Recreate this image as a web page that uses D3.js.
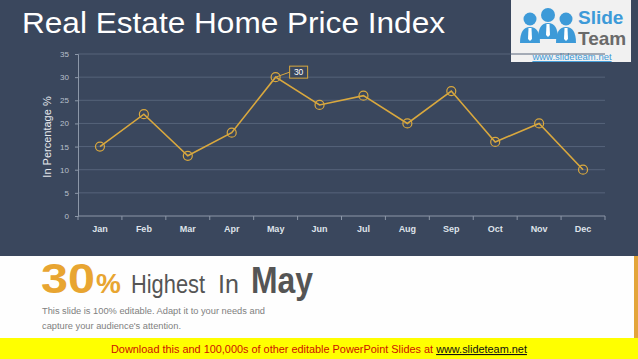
<!DOCTYPE html>
<html><head><meta charset="utf-8">
<script src="https://cdn.jsdelivr.net/npm/d3@7"></script>
<style>body{margin:0;padding:0;overflow:hidden;background:#fff}svg{display:block}</style>
</head><body>
<script>
const months = ["Jan","Feb","Mar","Apr","May","Jun","Jul","Aug","Sep","Oct","Nov","Dec"];
const values = [15,22,13,18,30,24,26,20,27,16,20,10];
const yTicks = [0,5,10,15,20,25,30,35];
const highlightIndex = 4;

const W=638,H=359;
const svg=d3.select("body").append("svg").attr("width",W).attr("height",H);
const font="Liberation Sans, Arial, sans-serif";

svg.append("rect").attr("width",W).attr("height",256).attr("fill","#3a475d");
svg.append("rect").attr("y",256).attr("width",W).attr("height",82).attr("fill","#fefefe");
svg.append("rect").attr("x",634).attr("y",256).attr("width",4).attr("height",82).attr("fill","#e3a53a");
svg.append("rect").attr("y",338).attr("width",W).attr("height",21).attr("fill","#ffff00");

svg.append("text").attr("x",22).attr("y",33).attr("fill","#ffffff").attr("font-family",font)
  .attr("font-size",29).attr("textLength",423).attr("lengthAdjust","spacingAndGlyphs").text("Real Estate Home Price Index");

// logo
const lg=svg.append("g");
lg.append("rect").attr("x",511).attr("y",0).attr("width",120).attr("height",62).attr("fill","#f1f1f1");
const blue="#3d9ad8";
[[530,19],[548,15],[566,19]].forEach(([cx,cy],i)=>{
  lg.append("circle").attr("cx",cx).attr("cy",cy).attr("r",i==1?7:6.5).attr("fill",blue);
  lg.append("path").attr("d",`M${cx-10},${cy+24} Q${cx-10},${cy+8} ${cx},${cy+8} Q${cx+10},${cy+8} ${cx+10},${cy+24} Z`).attr("fill",blue);
  lg.append("path").attr("d",`M${cx-1.5},${cy+9} L${cx+1.5},${cy+9} L${cx+2},${cy+20} L${cx},${cy+22} L${cx-2},${cy+20} Z`).attr("fill","#ffffff");
});
lg.append("text").attr("x",578).attr("y",24).attr("fill",blue).attr("font-family",font).attr("font-weight","bold").attr("font-size",19).text("Slide");
lg.append("text").attr("x",578).attr("y",45).attr("fill","#6a6a6a").attr("font-family",font).attr("font-weight","bold").attr("font-size",19).text("Team");
lg.append("text").attr("x",572).attr("y",60).attr("text-anchor","middle").attr("fill",blue).attr("font-family",font).attr("font-size",9.5).attr("text-decoration","underline").text("www.slideteam.net");

// chart
const x=d3.scaleBand().domain(months).range([78,605]);
const y=d3.scaleLinear().domain([0,35]).range([216,54]);
const grid=svg.append("g");
yTicks.forEach(t=>{
  if(t>0) grid.append("line").attr("x1",78).attr("x2",605).attr("y1",y(t)).attr("y2",y(t)).attr("stroke","#56647a").attr("stroke-width",1);
});
const ya=svg.append("g").attr("transform","translate(78,0)").call(d3.axisLeft(y).tickValues(yTicks).tickSize(3).tickPadding(6));
ya.select(".domain").attr("stroke","#8c97a8");
ya.selectAll(".tick line").attr("stroke","#8c97a8");
ya.selectAll("text").attr("fill","#b9c0cc").attr("font-family",font).attr("font-size",8);
const xa=svg.append("g").attr("transform","translate(0,216)").call(d3.axisBottom(x).tickSize(0).tickPadding(10));
xa.select(".domain").attr("stroke","#8c97a8").attr("d","M78,0H605");
xa.selectAll("text").attr("fill","#dfe3ea").attr("font-family",font).attr("font-size",9).attr("font-weight","bold");
months.concat(["end"]).forEach((m,i)=>{
  const xx=78+i*x.bandwidth();
  svg.append("line").attr("x1",xx).attr("x2",xx).attr("y1",216).attr("y2",220).attr("stroke","#8c97a8");
});
svg.append("text").attr("transform","translate(51,137) rotate(-90)").attr("text-anchor","middle")
  .attr("fill","#e6e9ee").attr("font-family",font).attr("font-size",11).text("In Percentage %");

const gold="#d9a83e";
const pts=months.map((m,i)=>[x(m)+x.bandwidth()/2,y(values[i])]);
svg.append("path").attr("d",d3.line()(pts)).attr("fill","none").attr("stroke",gold).attr("stroke-width",1.6);
pts.forEach(p=>svg.append("circle").attr("cx",p[0]).attr("cy",p[1]).attr("r",4.5).attr("fill","none").attr("stroke",gold).attr("stroke-width",1.2));
const hp=pts[highlightIndex];
svg.append("line").attr("x1",hp[0]).attr("y1",hp[1]).attr("x2",hp[0]+14).attr("y2",hp[1]-5).attr("stroke",gold).attr("stroke-width",1);
svg.append("rect").attr("x",hp[0]+14).attr("y",hp[1]-11).attr("width",18).attr("height",12).attr("fill","#3a475d").attr("stroke",gold).attr("stroke-width",1);
svg.append("text").attr("x",hp[0]+23).attr("y",hp[1]-2).attr("text-anchor","middle").attr("fill","#ffffff").attr("font-family",font).attr("font-size",8.5).text(values[highlightIndex]);

// bottom text
const bottom=svg.append("g").attr("font-family",font);
bottom.append("text").attr("x",41).attr("y",293).attr("fill","#e8a531").attr("font-weight","bold").attr("font-size",43)
  .attr("textLength",54).attr("lengthAdjust","spacingAndGlyphs").text(values[highlightIndex]);
bottom.append("text").attr("x",96).attr("y",293).attr("fill","#e8a531").attr("font-weight","bold").attr("font-size",28).text("%");
bottom.append("text").attr("x",131).attr("y",293).attr("fill","#555555").attr("font-size",25).attr("textLength",74).attr("lengthAdjust","spacingAndGlyphs").text("Highest");
bottom.append("text").attr("x",218).attr("y",293).attr("fill","#555555").attr("font-size",25).text("In");
bottom.append("text").attr("x",251).attr("y",293).attr("fill","#555555").attr("font-weight","bold").attr("font-size",36).attr("textLength",62).attr("lengthAdjust","spacingAndGlyphs").text(months[highlightIndex]);
svg.append("text").attr("x",42).attr("y",314).attr("fill","#808080").attr("font-family",font).attr("font-size",8.5).attr("textLength",223).attr("lengthAdjust","spacingAndGlyphs").text("This slide is 100% editable. Adapt it to your needs and");
svg.append("text").attr("x",42).attr("y",329).attr("fill","#808080").attr("font-family",font).attr("font-size",8.5).attr("textLength",139).attr("lengthAdjust","spacingAndGlyphs").text("capture your audience's attention.");

const ft=svg.append("text").attr("x",111).attr("y",353).attr("font-family",font).attr("font-size",10.9);
ft.append("tspan").attr("fill","#cc1100").text("Download this and 100,000s of other editable PowerPoint Slides at ");
ft.append("tspan").attr("fill","#111111").attr("text-decoration","underline").text("www.slideteam.net");
</script>
</body></html>
